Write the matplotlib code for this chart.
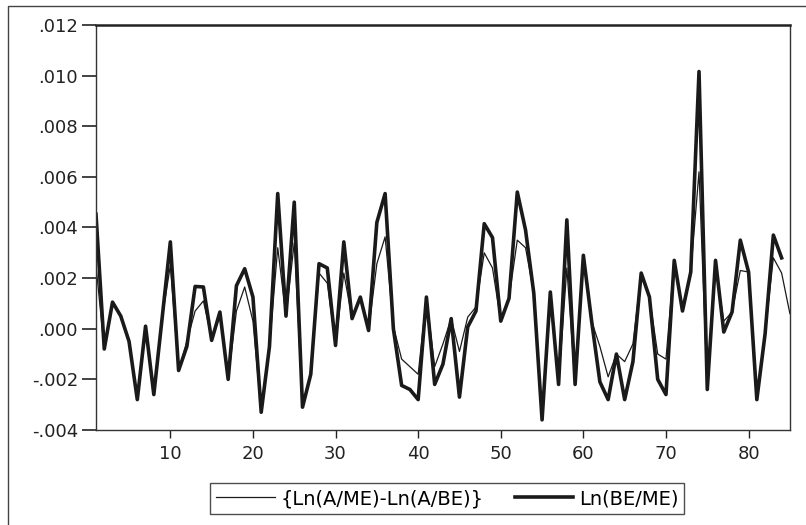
import numpy as np
import matplotlib.pyplot as plt
from matplotlib.ticker import FuncFormatter
from matplotlib.patches import Rectangle

plt.rcParams['font.family'] = ['DejaVu Sans']

# thin series: {Ln(A/ME)-Ln(A/BE)}, observations 1..85
diff_vals = [0.0025, -0.0008, 0.00105, 0.0005, -0.0005, -0.0028, 0.0001, -0.0026, 0.0004, 0.0025,
             -0.00165, -0.0005, 0.0007, 0.0011, -0.0004, 0.00066, -0.002, 0.0007, 0.00165, 0.0003,
             -0.0033, -0.0007, 0.0032, 0.0005, 0.0034, -0.0031, -0.0018, 0.0022, 0.0018, -0.00066,
             0.0022, 0.0004, 0.00125, -0.00007, 0.00257, 0.00363, 0.0001, -0.0012, -0.0015, -0.0018,
             0.00125, -0.0015, -0.0006, 0.0004, -0.0009, 0.00046, 0.00086, 0.003, 0.0024, 0.0003,
             0.0012, 0.0035, 0.0032, 0.0014, -0.0036, 0.00145, -0.0022, 0.0024, -0.0022, 0.0029,
             0.0003, -0.0007, -0.0019, -0.001, -0.0013, -0.0006, 0.0022, 0.00125, -0.001, -0.0012,
             0.0027, 0.0007, 0.00224, 0.0062, -0.0024, 0.0024, 0.0003, 0.00066, 0.0023, 0.00224,
             -0.0028, -0.0002, 0.0028, 0.0022, 0.0006]

# thick series: Ln(BE/ME), observations 1..84
bm_vals = [0.00452, -0.0008, 0.00105, 0.0005, -0.0005, -0.0028, 0.0001, -0.0026, 0.0004, 0.00343,
           -0.00165, -0.0007, 0.00167, 0.00165, -0.00046, 0.00066, -0.002, 0.0017, 0.00237, 0.00125,
           -0.0033, -0.0007, 0.00534, 0.0005, 0.005, -0.0031, -0.0018, 0.00257, 0.0024, -0.00066,
           0.00343, 0.0004, 0.00125, -0.00007, 0.0042, 0.00534, 0.0, -0.00224, -0.0024, -0.0028,
           0.00125, -0.0022, -0.0014, 0.0004, -0.0027, 0.00007, 0.0007, 0.00415, 0.0036, 0.0003,
           0.0012, 0.0054, 0.0039, 0.0014, -0.0036, 0.00145, -0.0022, 0.0043, -0.0022, 0.0029,
           0.0003, -0.0021, -0.0028, -0.001, -0.0028, -0.0013, 0.0022, 0.00125, -0.002, -0.0026,
           0.0027, 0.0007, 0.00224, 0.01016, -0.0024, 0.0027, -0.00013, 0.00066, 0.0035, 0.00224,
           -0.0028, -0.0002, 0.0037, 0.0028]

obs_diff = np.arange(1, len(diff_vals) + 1)
obs_bm = np.arange(1, len(bm_vals) + 1)

fig = plt.figure(figsize=(8.06, 5.25), dpi=100)
ax = fig.add_axes([0.1191, 0.181, 0.8609, 0.7714])

ax.plot(obs_diff, diff_vals, color='#1a1a1a', lw=0.9, label='{Ln(A/ME)-Ln(A/BE)}')
ax.plot(obs_bm, bm_vals, color='#1a1a1a', lw=2.6, label='Ln(BE/ME)')

ax.set_xlim(1, 85)
ax.set_ylim(-0.004, 0.012)
ax.set_xticks([10, 20, 30, 40, 50, 60, 70, 80])
ax.set_yticks(np.arange(-0.004, 0.0121, 0.002))

def fmt(v, pos):
    s = '%.3f' % v
    if s.startswith('-0'):
        return '-' + s[2:]
    if s.startswith('0'):
        return s[1:]
    return s

ax.yaxis.set_major_formatter(FuncFormatter(fmt))
ax.tick_params(axis='both', direction='out', labelsize=13, colors='#222222')
ax.tick_params(axis='y', length=10, width=1.2, pad=3)
ax.tick_params(axis='x', length=6, width=1, pad=5)
for s in ['left', 'right', 'bottom']:
    ax.spines[s].set_linewidth(1.0)
    ax.spines[s].set_color('#333333')
ax.spines['top'].set_linewidth(1.8)
ax.spines['top'].set_color('#222222')

leg = fig.legend(loc='center', bbox_to_anchor=(0.555, 0.05), ncol=2, fontsize=14,
                 frameon=True, fancybox=False, edgecolor='#222222', handlelength=3.0,
                 handletextpad=0.3, columnspacing=1.6, borderpad=0.3, borderaxespad=0)
leg.get_frame().set_linewidth(1.0)

# outer frame around the figure
fig.patches.append(Rectangle((8 / 806, -0.01), 1.0, 1 - 6 / 525 + 0.01, transform=fig.transFigure,
                             fill=False, edgecolor='#444444', lw=1.0))

fig.savefig('out.png', dpi=100)
